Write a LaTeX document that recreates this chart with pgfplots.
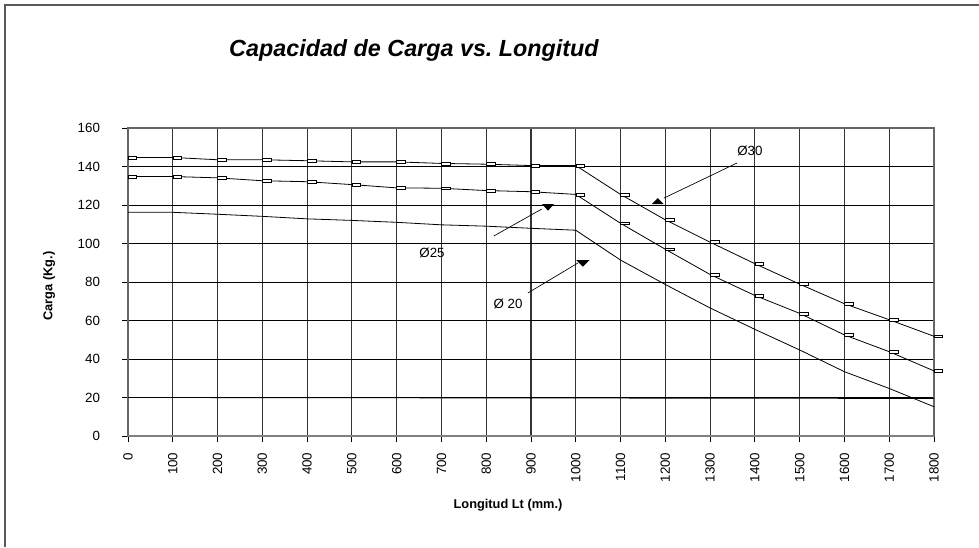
\documentclass[border=0pt]{standalone}
\usepackage{fontspec}
\setmainfont{Liberation Sans}
\usepackage{pgfplots}
\pgfplotsset{compat=1.18}

% Excel style dash marker: small open box starting at the point
\pgfdeclareplotmark{dashbox}{%
  \pgfpathrectangle{\pgfpoint{0pt}{-1.1pt}}{\pgfpoint{6.5pt}{2.2pt}}%
  \pgfusepathqfillstroke}

\begin{document}
\begin{tikzpicture}
\useasboundingbox (0,0) rectangle (734.25pt,410.25pt);
\draw[gray!70!black, line width=1pt] (3.75pt,0) -- (3.75pt,406.5pt) -- (734.25pt,406.5pt);

\node[font=\fontsize{17.5}{20}\selectfont\bfseries\itshape] at (310.5pt,372.75pt) {Capacidad de Carga vs.\ Longitud};
\node[font=\fontsize{9.6}{11}\selectfont\bfseries, rotate=90] at (36.75pt,195.75pt) {Carga (Kg.)};
\node[font=\fontsize{9.6}{11}\selectfont\bfseries] at (381pt,31.5pt) {Longitud Lt (mm.)};

\begin{axis}[
    at={(96pt,83.25pt)}, anchor=south west,
    scale only axis,
    width=604.5pt, height=231pt,
    xmin=0, xmax=1800,
    ymin=0, ymax=160,
    xtick={0,100,...,1800},
    ytick={0,20,...,160},
    /pgf/number format/1000 sep={},
    /pgf/number format/assume math mode=true,
    tick label style={font=\fontsize{10}{12}\selectfont},
    xticklabel style={rotate=90, anchor=east},
    xticklabel shift=4.5pt,
    yticklabel shift=13pt,
    tick align=outside,
    major tick length=4.5pt,
    xtick pos=left, ytick pos=left,
    tick style={black, line width=0.7pt},
    grid=major,
    x grid style={black!80, line width=0.8pt},
    y grid style={black, line width=0.7pt},
    axis line style={gray!80!black, line width=0.8pt},
    clip=false,
]
% Ø30
\addplot[black, line width=0.6pt, mark=dashbox, mark options={fill=white, draw=black, line width=0.4pt}] coordinates {
 (0,144.7)(100,144.7)(200,143.5)(300,143.5)(400,143.0)(500,142.4)(600,142.4)(700,141.6)(800,141.2)(900,140.5)(1000,140.5)
 (1100,125.5)(1200,112.3)(1300,100.7)(1400,89.5)(1500,78.9)(1600,68.7)(1700,60.4)(1800,51.8)};
% Ø25
\addplot[black, line width=0.6pt, mark=dashbox, mark options={fill=white, draw=black, line width=0.4pt}] coordinates {
 (0,134.8)(100,134.8)(200,134.1)(300,132.6)(400,132.1)(500,130.6)(600,128.9)(700,128.7)(800,127.5)(900,126.9)(1000,125.5)
 (1100,110.5)(1200,97.0)(1300,83.9)(1400,73.0)(1500,63.7)(1600,52.5)(1700,43.8)(1800,33.8)};
% Ø 20
\addplot[black, line width=0.6pt] coordinates {
 (0,116.2)(100,116.2)(200,115.2)(300,114.1)(400,112.8)(500,112.0)(600,111.0)(700,109.7)(800,109.0)(900,107.9)(1000,106.9)
 (1100,91.4)(1200,78.7)(1300,66.5)(1400,55.4)(1500,44.7)(1600,33.4)(1700,24.7)(1800,15.2)};
\addplot[black, line width=0.6pt] coordinates {(0,20)(1800,19.5)};
\addplot[gray, line width=1.2pt] coordinates {(0,0)(1800,0)};

% annotations
\node[font=\fontsize{10}{12}\selectfont] at (axis cs:1389,148) {Ø30};
\draw[black, line width=0.5pt] (axis cs:1360,141.8) -- (axis cs:1197,123.6);
\fill[black] (axis cs:1183,120.5) ++(-4.5pt,0) -- ++(9pt,0) -- ++(-4.5pt,4.5pt) -- cycle;

\node[font=\fontsize{10}{12}\selectfont] at (axis cs:679,95.1) {Ø25};
\draw[black, line width=0.5pt] (axis cs:817,103.9) -- (axis cs:924,117.9);
\fill[black] (axis cs:938,120.5) ++(-4.5pt,0) -- ++(9pt,0) -- ++(-4.5pt,-5pt) -- cycle;

\node[font=\fontsize{10}{12}\selectfont] at (axis cs:848.6,68.6) {Ø 20};
\draw[black, line width=0.5pt] (axis cs:893,74.3) -- (axis cs:1005,89.9);
\fill[black] (axis cs:1016,91.4) ++(-5pt,0) -- ++(10pt,0) -- ++(-5pt,-5pt) -- cycle;
\end{axis}
\end{tikzpicture}
\end{document}
